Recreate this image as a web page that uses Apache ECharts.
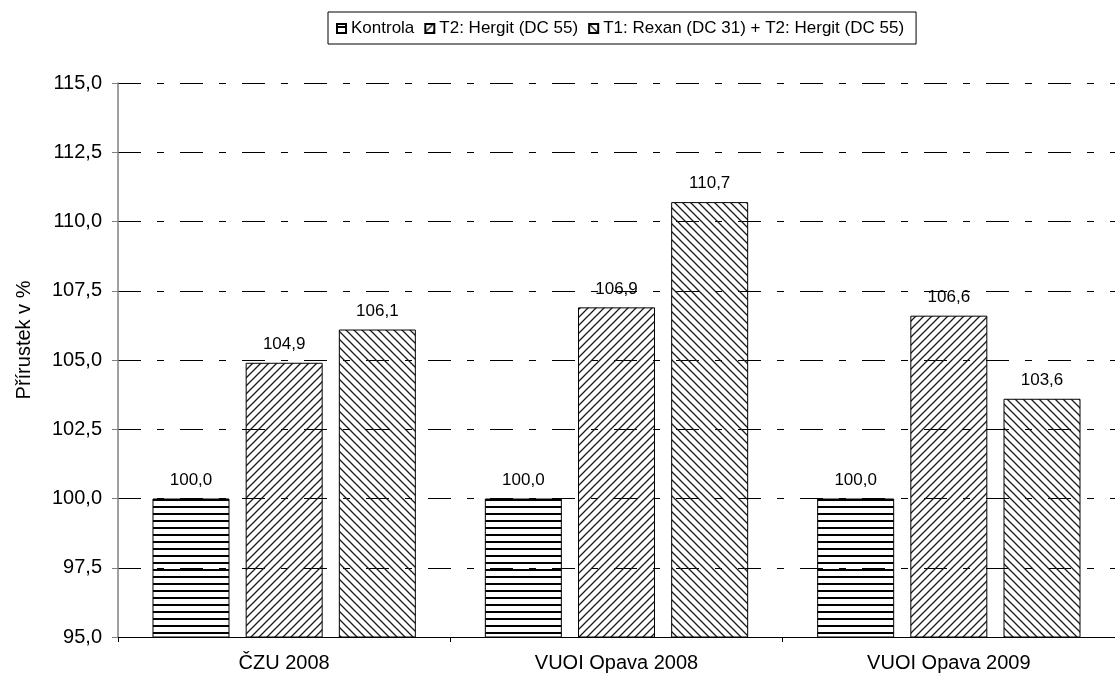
<!DOCTYPE html>
<html>
<head>
<meta charset="utf-8">
<script src="https://cdn.jsdelivr.net/npm/echarts@6/dist/echarts.min.js"></script>
<style>html,body{margin:0;padding:0;background:#fff;overflow:hidden;}#c{width:1115px;height:677px;}</style>
</head>
<body>
<div id="c"></div>
<script>
const categories = ['ČZU 2008', 'VUOI Opava 2008', 'VUOI Opava 2009'];
const seriesNames = ['Kontrola', 'T2: Hergit (DC 55)', 'T1: Rexan (DC 31) + T2: Hergit (DC 55)'];
const kontrola = [100.0, 100.0, 100.0];
const hergit = [104.9, 106.9, 106.6];
const rexanHergit = [106.1, 110.7, 103.6];
const yTicks = [95, 97.5, 100, 102.5, 105, 107.5, 110, 112.5, 115];
const yAxisTitle = 'Přírustek v %';

function makePattern(kind) {
  const c = document.createElement('canvas');
  const s = kind === 'h' ? 7 : 8;
  c.width = s; c.height = s;
  const g = c.getContext('2d');
  g.strokeStyle = '#1a1a1a';
  if (kind === 'h') {
    g.fillStyle = '#000';
    g.fillRect(0, 2, s, 2);
  } else {
    g.lineWidth = 1.3;
    g.beginPath();
    if (kind === '/') {
      g.moveTo(-2, s + 2); g.lineTo(s + 2, -2);
      g.moveTo(-2, 2); g.lineTo(2, -2);
      g.moveTo(s - 2, s + 2); g.lineTo(s + 2, s - 2);
    } else {
      g.moveTo(-2, -2); g.lineTo(s + 2, s + 2);
      g.moveTo(s - 2, -2); g.lineTo(s + 2, 2);
      g.moveTo(-2, s - 2); g.lineTo(2, s + 2);
    }
    g.stroke();
  }
  return { image: c, repeat: 'repeat' };
}
const fmt = v => Number(v).toFixed(1).replace('.', ',');
const patterns = [makePattern('h'), makePattern('/'), makePattern('\\')];
const dataSets = [kontrola, hergit, rexanHergit];

const chart = echarts.init(document.getElementById('c'));
chart.setOption({
  animation: false,
  backgroundColor: '#fff',
  textStyle: { fontFamily: 'Liberation Sans, Arial, sans-serif', color: '#000' },
  legend: {
    left: 328, top: 12,
    padding: [8, 12, 7, 8],
    borderColor: '#000', borderWidth: 1,
    itemWidth: 9, itemHeight: 9, itemGap: 10,
    textStyle: { fontSize: 17, color: '#000', padding: [0, 0, 0, 0] },
    icon: 'rect',
    data: seriesNames
  },
  graphic: [{
    type: 'text',
    x: 24, y: 340, rotation: Math.PI / 2,
    style: { text: yAxisTitle, fontSize: 20, fill: '#000', fontFamily: 'Liberation Sans, Arial, sans-serif', align: 'center', verticalAlign: 'middle' }
  }],
  grid: { left: 118, top: 83, bottom: 40, right: 0, containLabel: false },
  xAxis: {
    type: 'category',
    data: categories,
    axisLine: { lineStyle: { color: '#000', width: 1 } },
    axisTick: { show: true, length: 5, lineStyle: { color: '#000' } },
    axisLabel: { fontSize: 20, color: '#000', margin: 16 }
  },
  yAxis: {
    type: 'value',
    min: 95, max: 115, interval: 2.5,
    axisLine: { show: true, lineStyle: { color: '#808080', width: 1.5 } },
    axisTick: { show: true, length: 6, lineStyle: { color: '#808080' } },
    axisLabel: { fontSize: 20, color: '#000', margin: 16, formatter: v => fmt(v) },
    splitLine: { show: true, lineStyle: { color: '#000', width: 1, type: [23, 16, 7, 16] } }
  },
  series: seriesNames.map((n, i) => ({
    name: n,
    type: 'bar',
    data: dataSets[i],
    barWidth: 77,
    barGap: '21%',
    itemStyle: { color: patterns[i], borderColor: '#000', borderWidth: 1 },
    label: { show: true, position: 'top', distance: 10, fontSize: 17, color: '#000', formatter: p => fmt(p.value) }
  }))
});
</script>
</body>
</html>
